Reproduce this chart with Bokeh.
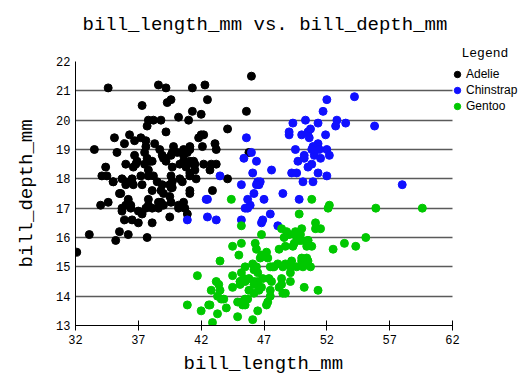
from bokeh.plotting import figure
from bokeh.models import (ColumnDataSource, Legend, LegendItem, FixedTicker, Range1d, Grid, Title)
from bokeh.embed import file_html
from bokeh.resources import INLINE

# ---- data (Palmer penguins: bill length / bill depth, mm) ----
adelie_len = [39.1, 39.5, 40.3, 36.7, 39.3, 38.9, 39.2, 34.1, 42.0, 37.8, 37.8, 41.1, 38.6, 34.6, 36.6, 38.7, 42.5, 34.4, 46.0,
              37.8, 37.7, 35.9, 38.2, 38.8, 35.3, 40.6, 40.5, 37.9, 40.5,
              39.5, 37.2, 39.5, 40.9, 36.4, 39.2, 38.8, 42.2, 37.6, 39.8, 36.5, 40.8, 36.0, 44.1, 37.0, 39.6, 41.1, 37.5, 36.0, 42.3,
              39.6, 40.1, 35.0, 42.0, 34.5, 41.4, 39.0, 40.6, 36.5, 37.6, 35.7, 41.3, 37.6, 41.1, 36.4, 41.6, 35.5, 41.1,
              35.9, 41.8, 33.5, 39.7, 39.6, 45.8, 35.5, 42.8, 40.9, 37.2, 36.2, 42.1, 34.6, 42.9, 36.7, 35.1,
              37.3, 41.3, 36.3, 36.9, 38.3, 38.9, 35.7, 41.1, 34.0, 39.6, 36.2, 40.8, 38.1, 40.3, 33.1, 43.2,
              35.0, 41.0, 37.7, 37.8, 37.9, 39.7, 38.6, 38.2, 38.1, 43.2, 38.1, 45.6, 39.7, 42.2, 39.6, 42.7,
              38.6, 37.3, 35.7, 41.1, 36.2, 37.7, 40.2, 41.4, 35.2, 40.6, 38.8, 41.5, 39.0, 44.1, 38.5, 43.1,
              36.8, 37.5, 38.1, 41.1, 35.6, 40.2, 37.0, 39.7, 40.2, 40.6, 32.1, 40.7, 37.3, 39.0, 39.2, 36.6, 36.0, 37.8, 36.0, 41.5]
adelie_dep = [18.7, 17.4, 18.0, 19.3, 20.6, 17.8, 19.6, 18.1, 20.2, 17.1, 17.3, 17.6, 21.2, 21.1, 17.8, 19.0, 20.7, 18.4, 21.5,
              18.3, 18.7, 19.2, 18.1, 17.2, 18.9, 18.6, 17.9, 18.6, 18.9,
              16.7, 18.1, 17.8, 18.9, 17.0, 21.1, 20.0, 18.5, 19.3, 19.1, 18.0, 18.4, 18.5, 19.7, 16.9, 18.8, 19.0, 18.9, 17.9, 21.2,
              17.7, 18.9, 17.9, 19.5, 18.1, 18.6, 17.5, 18.8, 16.6, 19.1, 16.9, 21.1, 17.0, 18.2, 17.1, 18.0, 16.2, 19.1,
              16.6, 19.4, 19.0, 18.4, 17.2, 18.9, 17.5, 18.5, 16.8, 19.4, 16.1, 19.1, 17.2, 17.6, 18.8, 19.4,
              17.8, 20.3, 19.5, 18.6, 19.2, 18.8, 18.0, 18.1, 17.1, 18.1, 17.3, 18.9, 18.6, 18.5, 16.1, 18.5,
              17.9, 20.0, 16.0, 20.0, 18.6, 18.9, 17.2, 20.0, 17.0, 19.0, 16.5, 20.3, 17.7, 19.5, 20.7, 18.3,
              17.0, 20.5, 17.0, 18.6, 17.2, 19.8, 17.0, 18.5, 15.9, 19.0, 17.6, 18.3, 17.1, 18.0, 17.9, 19.2,
              18.5, 18.5, 17.6, 17.5, 17.5, 20.1, 16.5, 17.9, 17.1, 17.2, 15.5, 17.0, 16.8, 18.7, 18.6, 18.4, 17.8, 18.1, 17.1, 18.5]

chinstrap_len = [46.5, 50.0, 51.3, 45.4, 52.7, 45.2, 46.1, 51.3, 46.0, 51.3, 46.6, 51.7, 47.0, 52.0, 45.9, 50.5, 50.3, 58.0,
                 46.4, 49.2, 42.4, 48.5, 43.2, 50.6, 46.7, 52.0, 50.5, 49.5, 46.4, 52.8, 40.9, 54.2, 42.5, 51.0,
                 49.7, 47.5, 47.6, 52.0, 46.9, 53.5, 49.0, 46.2, 50.9, 45.5, 50.9, 50.8, 50.1, 49.0, 51.5, 49.8,
                 48.1, 51.4, 45.7, 50.7, 42.5, 52.2, 45.2, 49.3, 50.2, 45.6, 51.9, 46.8, 45.7, 55.8, 43.5, 49.6, 50.8, 50.2]
chinstrap_dep = [17.9, 19.5, 19.2, 18.7, 19.8, 17.8, 18.2, 18.2, 18.9, 19.9, 17.8, 20.3, 17.3, 18.1, 17.1, 19.6, 20.0, 17.8,
                 18.6, 18.2, 17.3, 17.5, 16.6, 19.4, 17.9, 19.0, 18.4, 19.0, 17.8, 20.0, 16.6, 20.8, 16.7, 18.8,
                 18.6, 16.8, 18.3, 20.7, 16.6, 19.9, 19.5, 17.5, 19.1, 17.0, 17.9, 18.5, 17.9, 19.6, 18.7, 17.3,
                 16.4, 19.0, 17.3, 19.7, 17.3, 18.8, 16.6, 19.9, 18.8, 19.4, 19.5, 16.5, 17.0, 19.8, 18.1, 18.2, 19.0, 18.7]

gentoo_len = [46.1, 50.0, 48.7, 50.0, 47.6, 46.5, 45.4, 46.7, 43.3, 46.8, 40.9, 49.0, 45.5, 48.4, 45.8, 49.3, 42.0, 49.2,
              46.2, 48.7, 50.2, 45.1, 46.5, 46.3, 42.9, 46.1, 44.5, 47.8, 48.2, 50.0, 47.3, 42.8, 45.1, 59.6,
              49.1, 48.4, 42.6, 44.4, 44.0, 48.7, 42.7, 49.6, 45.3, 49.6, 50.5, 43.6, 45.5, 50.5, 44.9, 45.2,
              46.6, 48.5, 45.1, 50.1, 46.5, 45.0, 43.8, 45.5, 43.2, 50.4, 45.3, 46.2, 45.7, 54.3, 45.8, 49.8,
              46.2, 49.5, 43.5, 50.7, 47.7, 46.4, 48.2, 46.5, 46.4, 48.6, 47.5, 51.1, 45.2, 45.2, 49.1, 52.5,
              47.4, 50.0, 44.9, 50.8, 43.4, 51.3, 47.5, 52.1, 47.5, 52.2, 45.5, 49.5, 44.5, 50.8, 49.4, 46.9,
              48.4, 51.1, 48.5, 55.9, 47.2, 49.1, 47.3, 46.8, 41.7, 53.4, 43.3, 48.1, 50.5, 49.8, 43.5, 51.5,
              46.2, 55.1, 44.5, 48.8, 47.2, 46.8, 50.4, 45.2, 49.9]
gentoo_dep = [13.2, 16.3, 14.1, 15.2, 14.5, 13.5, 14.6, 15.3, 13.4, 15.4, 13.7, 16.1, 13.7, 14.6, 14.6, 15.7, 13.5, 15.2,
              14.5, 15.1, 14.3, 14.5, 14.5, 15.8, 13.1, 15.1, 14.3, 15.0, 14.3, 15.3, 15.3, 14.2, 14.5, 17.0,
              14.8, 16.3, 13.7, 17.3, 13.6, 15.7, 13.7, 16.0, 13.7, 15.0, 15.9, 13.9, 13.9, 15.9, 13.3, 15.8,
              14.2, 14.1, 14.4, 15.0, 14.4, 15.4, 13.9, 15.0, 14.5, 15.3, 13.8, 14.9, 13.9, 15.7, 14.2, 16.8,
              14.4, 16.2, 14.2, 15.0, 15.0, 15.6, 15.6, 14.8, 15.0, 16.0, 14.2, 16.3, 13.8, 16.4, 14.5, 15.6,
              14.6, 15.9, 13.8, 17.3, 14.4, 14.2, 14.0, 17.0, 15.0, 17.1, 14.5, 16.1, 14.7, 15.7, 15.8, 14.6,
              14.4, 16.5, 15.0, 17.0, 15.5, 15.0, 13.8, 16.1, 14.7, 15.8, 14.0, 15.1, 15.2, 15.9, 15.2, 16.3,
              14.1, 16.0, 15.7, 16.2, 13.7, 14.3, 15.7, 14.8, 16.1]

species = ["Adelie", "Chinstrap", "Gentoo"]
colors = ["#000000", "#1010ff", "#00c800"]
x_ticks = [32, 37, 42, 47, 52, 57, 62]
y_ticks = [13, 14, 15, 16, 17, 18, 19, 20, 21, 22]
title_text = "bill_length_mm vs. bill_depth_mm"
x_label = "bill_length_mm"
y_label = "bill_depth_mm"
legend_title = "Legend"

MONO = "Liberation Mono"

# geometry: the data area spans x 32..62 over 377 px; the frame is widened to the
# right so that the legend (outside the data area) is not clipped
W, H = 522, 379
left, bottom, top = 75, 53, 61
data_w = 377
frame_w = W - left
x0, x1 = x_ticks[0], x_ticks[-1]
y0, y1 = y_ticks[0], y_ticks[-1]
x_end = x0 + (x1 - x0) * frame_w / data_w

p = figure(width=W, height=H, output_backend="svg", toolbar_location=None,
           x_range=Range1d(x0, x_end), y_range=Range1d(y0, y1), title=None,
           min_border_left=left, min_border_right=0, min_border_top=top, min_border_bottom=bottom)
p.outline_line_color = None

# legend heading (nearest the frame), then the main title above it
leg_t = Title(text=legend_title, align="left", offset=386, text_font=MONO,
              text_font_size="13px", text_font_style="normal", text_color="black", standoff=2)
p.add_layout(leg_t, "above")
main_t = Title(text=title_text, align="left", offset=7, text_font=MONO, text_font_size="19px",
               text_font_style="normal", text_color="black", standoff=14)
p.add_layout(main_t, "above")

# axes
p.xaxis.ticker = FixedTicker(ticks=x_ticks)
p.yaxis.ticker = FixedTicker(ticks=y_ticks)
p.xaxis.bounds = (x0, x1)
p.yaxis.bounds = (y0, y1)
p.yaxis.axis_label = y_label
for ax in (p.xaxis, p.yaxis):
    ax.axis_label_text_font = MONO
    ax.axis_label_text_font_size = "19px"
    ax.axis_label_text_font_style = "normal"
    ax.axis_label_text_color = "black"
    ax.major_label_text_font = MONO
    ax.major_label_text_font_size = "12px"
    ax.major_label_text_color = "black"
    ax.axis_line_color = "black"
    ax.minor_tick_line_color = None
p.xaxis.major_tick_in = 5
p.xaxis.major_tick_out = 5
p.xaxis.major_tick_line_color = "black"
p.xaxis.major_label_standoff = 4
p.yaxis.major_tick_line_color = None
p.yaxis.major_tick_out = 0
p.yaxis.major_tick_in = 0
p.yaxis.major_label_standoff = 5
p.yaxis.axis_label_standoff = 15

# x-axis caption centred under the data area (not the widened frame)
xcap = Title(text=x_label, align="left", offset=108, text_font=MONO, text_font_size="19px",
             text_font_style="normal", text_color="black", standoff=9)
p.add_layout(xcap, "below")

# horizontal grid lines limited to the data area
p.xgrid.grid_line_color = None
p.ygrid.grid_line_color = None
has_cross = "cross_bounds" in Grid.properties()
if has_cross:
    g1 = Grid(dimension=1, ticker=FixedTicker(ticks=y_ticks[1:-1]), cross_bounds=(x0, x1),
              grid_line_color="#5a5a5a", grid_line_width=1.3)
    g2 = Grid(dimension=1, ticker=FixedTicker(ticks=[y1]), cross_bounds=(x0, x1),
              grid_line_color="black", grid_line_width=1.3)
    p.add_layout(g1)
    p.add_layout(g2)
else:
    gy = y_ticks[1:-1]
    p.segment(x0=[x0] * len(gy), x1=[x1] * len(gy), y0=gy, y1=gy, line_color="#5a5a5a", line_width=1.3, level="underlay")
    p.segment(x0=[x0], x1=[x1], y0=[y1], y1=[y1], line_color="black", line_width=1.3, level="underlay")

renderers = []
for name, xs, ys, c in zip(species,
                           [adelie_len, chinstrap_len, gentoo_len],
                           [adelie_dep, chinstrap_dep, gentoo_dep], colors):
    src = ColumnDataSource(dict(x=xs, y=ys))
    r = p.scatter("x", "y", source=src, size=8, fill_color=c, line_color=c)
    renderers.append((name, r))

legend = Legend(items=[LegendItem(label=n, renderers=[r]) for n, r in renderers],
                location=(374, 211))
legend.label_text_font = "Liberation Sans"
legend.label_text_font_size = "12px"
legend.label_text_color = "black"
legend.glyph_width = 16
legend.glyph_height = 16
legend.label_height = 14
legend.label_standoff = 1
legend.spacing = 0
legend.padding = 2
legend.margin = 0
legend.border_line_color = None
legend.background_fill_alpha = 0
p.add_layout(legend, "center")

open("out.html", "w").write(file_html(p, INLINE))
